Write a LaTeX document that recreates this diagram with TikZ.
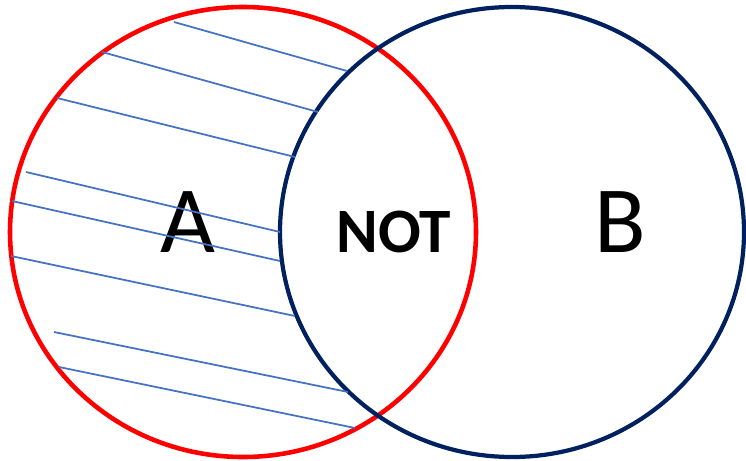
\documentclass[tikz,border=0pt]{standalone}
\usepackage{fontspec}
\setmainfont{Carlito}
\usepackage{xcolor}
\definecolor{setred}{HTML}{FF0000}
\definecolor{setnavy}{HTML}{002060}
\definecolor{hatchblue}{HTML}{4472C4}

\begin{document}
\begin{tikzpicture}[
    x=0.02cm, y=-0.02cm,
    setA/.style={draw=setred, line width=2.6pt},
    setB/.style={draw=setnavy, line width=2.4pt},
    hatch/.style={draw=hatchblue, line width=1pt},
    biglabel/.style={font=\fontsize{54}{54}\selectfont, inner sep=0pt},
    oplabel/.style={font=\fontsize{36}{36}\selectfont\bfseries, inner sep=0pt}
]
    \useasboundingbox (0,0) rectangle (746,460);
    \draw[setA] (243,232) ellipse [x radius=233, y radius=-225];
    \draw[setB] (512,232) ellipse [x radius=232, y radius=-225];
    \node[biglabel] (labelA) at (188,222) {A};
    \node[biglabel] (labelB) at (620,222) {B};
    \node[oplabel] (labelNot) at (394,232) {NOT};
    % hatching of A minus B
    \foreach \xa/\ya/\xb/\yb in {174/22/347/71, 102/52/318/112, 57/98/295/157,
        26/172/280/232, 12/201/280/261, 11/256/295/316, 54/332/348/392, 59/367/355/428}
        \draw[hatch] (\xa,\ya) -- (\xb,\yb);
\end{tikzpicture}
\end{document}
